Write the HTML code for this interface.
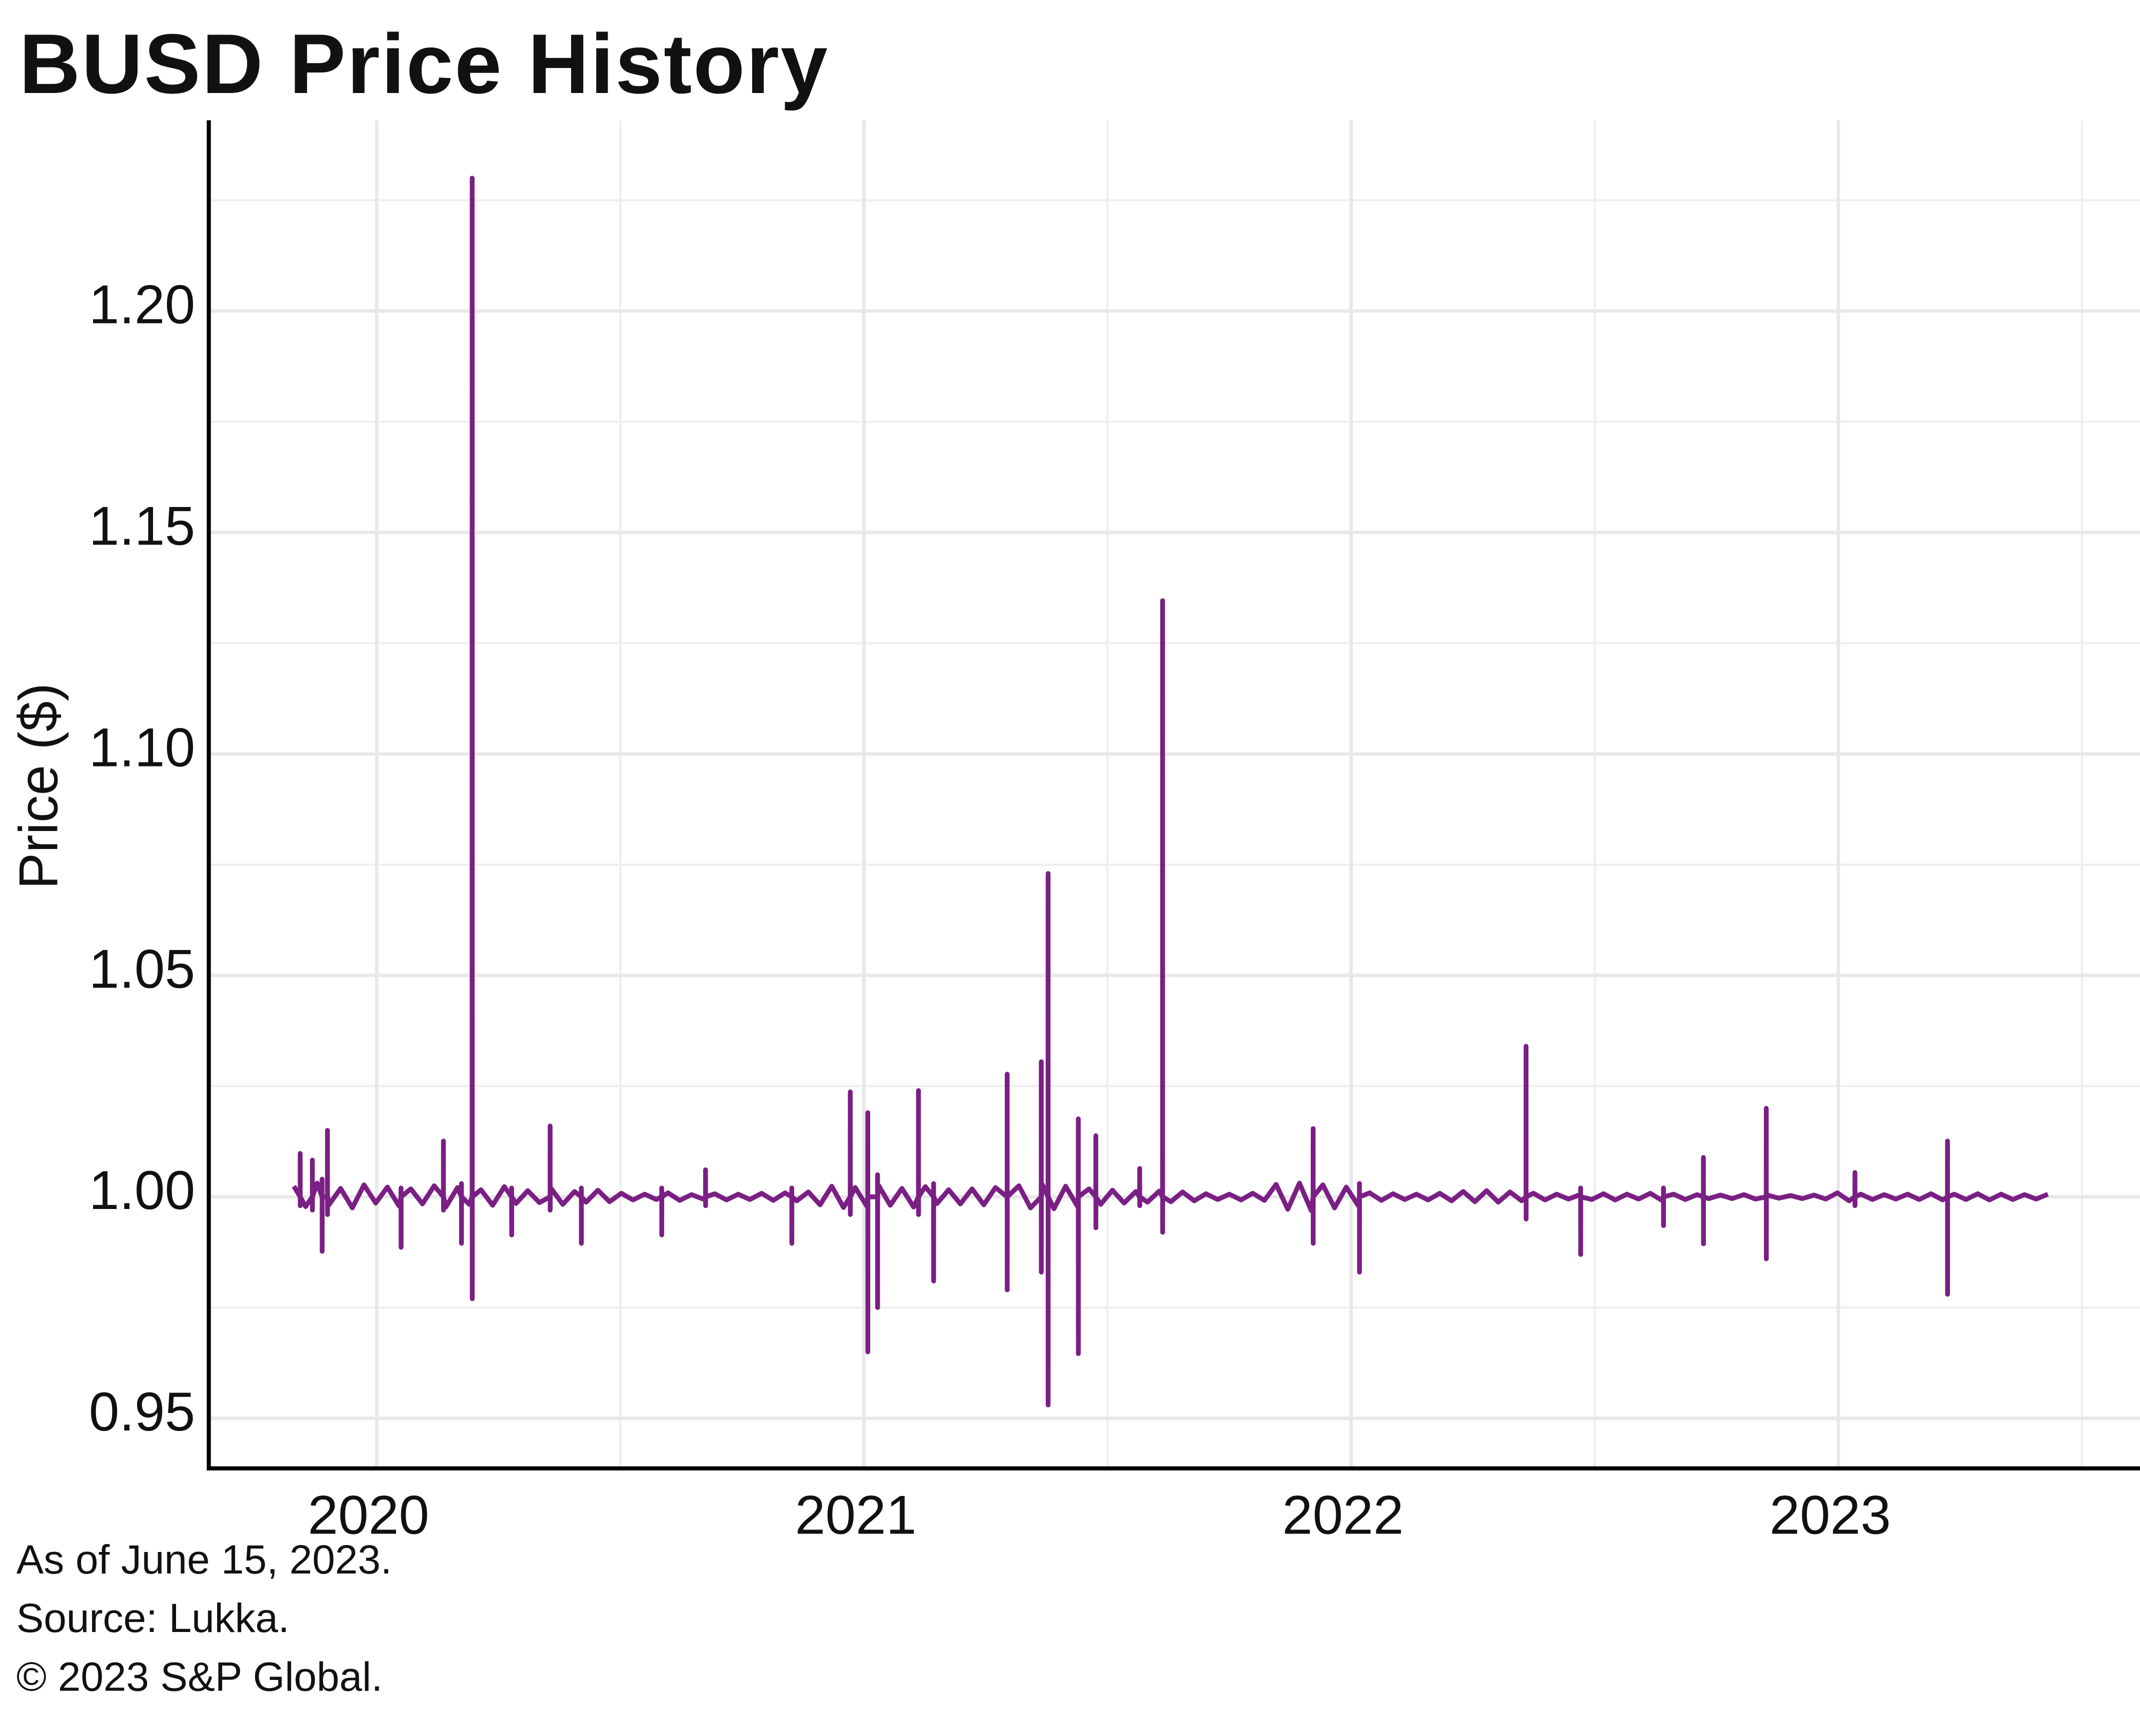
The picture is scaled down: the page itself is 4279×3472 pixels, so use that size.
<!DOCTYPE html>
<html>
<head>
<meta charset="utf-8">
<style>
html,body{margin:0;padding:0;background:#fff;}
svg{display:block;}
text{font-family:"Liberation Sans",sans-serif;fill:#111;}
</style>
</head>
<body>
<svg id="chart" width="4279" height="3472" viewBox="0 0 1568 1272" xmlns="http://www.w3.org/2000/svg">
  <rect x="0" y="0" width="1568" height="1272" fill="#fff"/>
  <text x="14" y="68" font-size="62" font-weight="bold" letter-spacing="1">BUSD Price History</text>
  <g id="grid"></g>
  <g id="series"></g>
  <g id="axes"></g>
  <text transform="translate(42,576) rotate(-90)" text-anchor="middle" font-size="40">Price ($)</text>
  <text x="12" y="1153" font-size="30">As of June 15, 2023.</text>
  <text x="12" y="1196" font-size="30">Source: Lukka.</text>
  <text x="12" y="1239" font-size="30">© 2023 S&amp;P Global.</text>
</svg>
<script>
const yTicks = [0.95, 1.00, 1.05, 1.10, 1.15, 1.20];
const yTickLabels = ["0.95", "1.00", "1.05", "1.10", "1.15", "1.20"];
const yMinorTicks = [0.975, 1.025, 1.075, 1.125, 1.175, 1.225];
const xTicks = [2020, 2021, 2022, 2023];
const xTickLabels = ["2020", "2021", "2022", "2023"];
const xMinorTicks = [2020.5, 2021.5, 2022.5, 2023.5];
const bandStart = 2019.83;
const bandStep = 0.024;
const bandValues = [
1.0024,0.9978,1.0031,0.9982,1.0019,0.9975,1.0027,0.9986,1.0022,0.9979,1.0018,0.9984,1.0025,0.9977,1.0021,0.9983,1.0016,0.9981,1.0023,0.9985,1.0014,0.9987,1.0019,0.9983,1.0012,0.9988,1.0015,0.9989,
1.0008,0.9993,1.0006,0.9994,1.0009,0.9992,1.0005,0.9995,1.0007,0.9993,1.0006,0.9994,1.0008,0.9992,1.0009,0.9991,1.0011,
0.9982,1.0024,0.9976,1.0021,0.9979,1.0026,0.9981,1.0019,0.9977,1.0023,0.9985,1.0016,0.9984,1.0018,0.9982,1.0021,0.9978,1.0025,0.9975,1.0028,0.9973,1.0024,0.9979,1.0018,0.9983,1.0015,0.9986,1.0012,0.9988,1.0013,0.9989,1.0011,0.9991,
1.0007,0.9994,1.0006,0.9993,1.0008,0.9992,
1.0028,0.9972,1.0031,0.9969,1.0027,0.9975,1.0022,0.9981,
1.0009,0.9992,1.0007,0.9994,1.0006,0.9993,1.0008,0.9991,1.0012,0.9989,1.0014,0.9988,1.0011,0.9991,1.0008,0.9993,1.0006,0.9995,1.0005,0.9994,1.0007,0.9993,1.0006,0.9995,1.0008,0.9992,1.0006,0.9994,1.0005,0.9996,1.0004,0.9996,1.0005,0.9995,1.0004,0.9997,1.0003,0.9996,1.0004,0.9995,1.0009,0.9991,1.0006,0.9994,1.0005,0.9995,1.0006,0.9994,1.0007,0.9993,1.0006,0.9994,1.0007,0.9993,1.0006,0.9994,1.0005,0.9995,1.0006
];
const spikeDates = [2020.196,2021.613,2021.378,2021.364,2021.294,2021.440,2020.972,2021.008,2021.028,2021.112,2021.143,2022.359,2022.852,2023.224,2021.922,2022.017,2020.356,2019.899,2019.888,2020.137,2020.050,2020.174,2020.277,2020.420,2020.852,2022.471,2022.723,2022.641,2023.034,2020.675,2020.585,2019.843,2019.868,2021.476,2021.566];
const spikeHighs = [1.230,1.1346,1.073,1.0305,1.0277,1.0176,1.0237,1.019,1.005,1.024,1.003,1.034,1.020,1.0126,1.0154,1.003,1.016,1.015,1.004,1.0126,1.002,1.003,1.002,1.002,1.002,1.002,1.0089,1.002,1.0055,1.0061,1.002,1.0098,1.0083,1.0138,1.0064];
const spikeLows = [0.977,0.992,0.953,0.983,0.979,0.9646,0.996,0.965,0.975,0.996,0.981,0.995,0.986,0.978,0.9895,0.983,0.997,0.996,0.9877,0.997,0.9886,0.9895,0.9914,0.9895,0.9895,0.987,0.9894,0.9935,0.998,0.998,0.9914,0.998,0.997,0.993,0.998];

const NS = "http://www.w3.org/2000/svg";
const plot = {left:153, right:1568, top:88, bottom:1076};
function xScale(d){ return 276 + (d - 2020) * 357; }
function yScale(v){ return 877 - (v - 1.0) * 3246; }

const grid = document.getElementById('grid');
function line(parent, x1, y1, x2, y2, stroke, w){
  const l = document.createElementNS(NS, 'line');
  l.setAttribute('x1', x1); l.setAttribute('y1', y1);
  l.setAttribute('x2', x2); l.setAttribute('y2', y2);
  l.setAttribute('stroke', stroke); l.setAttribute('stroke-width', w);
  parent.appendChild(l);
  return l;
}
yMinorTicks.forEach(v => {
  const l = line(grid, plot.left, yScale(v), plot.right, yScale(v), '#eeeeee', 1.5);
  
  
});
xMinorTicks.forEach(d => {
  const l = line(grid, xScale(d), plot.top, xScale(d), plot.bottom, '#eeeeee', 1.5);
  
  
});
yTicks.forEach(v => {
  const l = line(grid, plot.left, yScale(v), plot.right, yScale(v), '#e8e8e8', 2.5);
  
  
});
xTicks.forEach(d => {
  const l = line(grid, xScale(d), plot.top, xScale(d), plot.bottom, '#e8e8e8', 2.5);
  
  
});

const pts = [];
bandValues.forEach((v, i) => pts.push([bandStart + i * bandStep, v]));
spikeDates.forEach((d, i) => {
  pts.push([d - 0.0001, 1.0]);
  pts.push([d, spikeHighs[i]]);
  pts.push([d + 0.0001, spikeLows[i]]);
  pts.push([d + 0.0002, 1.0]);
});
pts.sort((a, b) => a[0] - b[0]);
let dstr = '';
pts.forEach((p, i) => { dstr += (i ? 'L' : 'M') + xScale(p[0]).toFixed(2) + ' ' + yScale(p[1]).toFixed(2); });
const path = document.createElementNS(NS, 'path');
path.setAttribute('d', dstr);
path.setAttribute('fill', 'none');
path.setAttribute('stroke', '#7a1f83');
path.setAttribute('stroke-width', '3.5');
path.setAttribute('stroke-linejoin', 'round');


document.getElementById('series').appendChild(path);

const axes = document.getElementById('axes');
const ya = line(axes, plot.left, plot.top, plot.left, plot.bottom + 1.5, '#000', 3);


const xa = line(axes, plot.left - 1.5, plot.bottom, plot.right, plot.bottom, '#000', 3);


yTicks.forEach((v, i) => {
  const t = document.createElementNS(NS, 'text');
  t.setAttribute('x', 143); t.setAttribute('y', yScale(v) + 9);
  t.setAttribute('text-anchor', 'end'); t.setAttribute('font-size', '40');
  t.textContent = yTickLabels[i];
  
  
  axes.appendChild(t);
});
xTicks.forEach((d, i) => {
  const t = document.createElementNS(NS, 'text');
  t.setAttribute('x', xScale(d) - 6); t.setAttribute('y', 1124);
  t.setAttribute('text-anchor', 'middle'); t.setAttribute('font-size', '40');
  t.textContent = xTickLabels[i];
  
  
  axes.appendChild(t);
});
</script>
</body>
</html>
